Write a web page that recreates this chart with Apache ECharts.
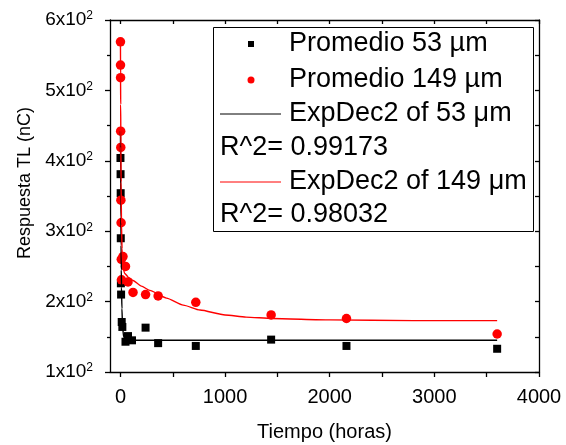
<!DOCTYPE html>
<html>
<head>
<meta charset="utf-8">
<script src="https://cdn.jsdelivr.net/npm/echarts@6/dist/echarts.min.js"></script>
<style>
html,body{margin:0;padding:0;background:#fff;}
#c{width:566px;height:445px;}
</style>
</head>
<body>
<div id="c"></div>
<script>
// ---- data ----
const tiempo53 = [0, 1, 2, 3, 4, 6, 12, 18, 48, 72, 110, 240, 360, 720, 1440, 2160, 3600];
const resp53   = [404, 381, 354, 290, 226, 210, 171, 164, 143, 151, 145, 163, 141, 137, 146, 137, 133];

const tiempo149 = [0, 0.5, 1, 2, 3, 4, 6, 8, 10, 24, 48, 72, 120, 240, 360, 720, 1440, 2160, 3600];
const resp149   = [569, 536, 518, 442, 419, 344, 312, 260, 231, 264, 250, 228, 213, 210, 208, 199, 181, 176, 154];

const fitX53 = [0, 2, 4, 6, 8, 10, 14, 20, 30, 50, 100, 500, 1000, 2000, 3000, 3600];
const fitY53 = [442, 380, 320, 280, 245, 220, 190, 165, 150, 145.5, 145, 145, 145, 145, 145, 145];

const fitX149 = [0, 1, 2, 4, 6, 10, 15, 22, 40, 80, 120, 200, 280, 440, 600, 760, 1000, 1200, 1450, 2000, 2800, 3600];
const fitY149 = [565, 520, 480, 420, 370, 310, 275, 250, 240, 234, 230, 222, 216, 205, 195, 188, 181, 178, 176, 174, 173, 173];

const xLabelValues = [0, 1000, 2000, 3000, 4000];
const xTickValues = [0, 500, 1000, 1500, 2000, 2500, 3000, 3500, 4000];

const seriesNames = ['Promedio 53 µm', 'Promedio 149 µm', 'ExpDec2 of 53 μm', 'ExpDec2 of 149 μm'];
const r2Texts = ['R^2= 0.99173', 'R^2= 0.98032'];
const xTitle = 'Tiempo (horas)';
const yTitle = 'Respuesta TL (nC)';

const FONT = '"Liberation Sans", Arial, sans-serif';
const zip = (xs, ys) => xs.map((x, i) => [x, ys[i]]);

const chart = echarts.init(document.getElementById('c'), null, {renderer: 'canvas'});

const legX = 213, legY = 27, legW = 320, legH = 204;
const rowY = [44, 80, 114, 148, 182, 215];
const txtX = 289;
const legFont = 27;

const graphics = [
  {type: 'rect', z: 100, shape: {x: legX + 0.5, y: legY + 0.5, width: legW, height: legH},
   style: {fill: '#fff', stroke: '#000', lineWidth: 1}},
  {type: 'rect', z: 101, shape: {x: 248, y: rowY[0] - 3, width: 6, height: 6}, style: {fill: '#000'}},
  {type: 'circle', z: 101, shape: {cx: 251, cy: rowY[1], r: 3.5}, style: {fill: '#ff0000'}},
  {type: 'line', z: 101, shape: {x1: 220, y1: rowY[2], x2: 281, y2: rowY[2]}, style: {stroke: '#000', lineWidth: 1}},
  {type: 'line', z: 101, shape: {x1: 220, y1: rowY[4], x2: 281, y2: rowY[4]}, style: {stroke: '#ff0000', lineWidth: 1}},
  {type: 'text', z: 101, x: txtX, y: rowY[0], style: {text: seriesNames[0], font: legFont + 'px ' + FONT, fill: '#000', verticalAlign: 'middle'}},
  {type: 'text', z: 101, x: txtX, y: rowY[1], style: {text: seriesNames[1], font: legFont + 'px ' + FONT, fill: '#000', verticalAlign: 'middle'}},
  {type: 'text', z: 101, x: txtX, y: rowY[2], style: {text: seriesNames[2], font: legFont + 'px ' + FONT, fill: '#000', verticalAlign: 'middle'}},
  {type: 'text', z: 101, x: 220, y: rowY[3], style: {text: r2Texts[0], font: legFont + 'px ' + FONT, fill: '#000', verticalAlign: 'middle'}},
  {type: 'text', z: 101, x: txtX, y: rowY[4], style: {text: seriesNames[3], font: legFont + 'px ' + FONT, fill: '#000', verticalAlign: 'middle'}},
  {type: 'text', z: 101, x: 220, y: rowY[5], style: {text: r2Texts[1], font: legFont + 'px ' + FONT, fill: '#000', verticalAlign: 'middle'}}
];

const axisLineStyle = {color: '#000', width: 1.3};

const option = {
  animation: false,
  backgroundColor: '#fff',
  textStyle: {fontFamily: FONT},
  grid: {left: 110, right: 27, top: 20, bottom: 73, containLabel: false, outerBoundsMode: 'none'},
  xAxis: [
    {
      type: 'value', position: 'bottom', min: -100, max: 4000,
      name: xTitle, nameLocation: 'middle', nameGap: 50,
      nameTextStyle: {fontSize: 20, color: '#000', fontFamily: FONT},
      axisLine: {show: true, onZero: false, lineStyle: axisLineStyle},
      axisTick: {show: true, inside: false, length: 5, customValues: xTickValues, lineStyle: {color: '#000', width: 1.3}},
      axisLabel: {show: true, customValues: xLabelValues, formatter: v => String(v), fontSize: 20, color: '#000', margin: 15, fontFamily: FONT},
      splitLine: {show: false}
    },
    {
      type: 'value', position: 'top', min: -100, max: 4000,
      axisLine: {show: true, onZero: false, lineStyle: axisLineStyle},
      axisTick: {show: true, inside: true, length: 4, customValues: xTickValues, lineStyle: {color: '#000', width: 1.3}},
      axisLabel: {show: false},
      splitLine: {show: false}
    }
  ],
  yAxis: [
    {
      type: 'value', position: 'left', min: 100, max: 600, interval: 100,
      name: yTitle, nameLocation: 'middle', nameGap: 76, nameRotate: 90,
      nameTextStyle: {fontSize: 18, color: '#000', fontFamily: FONT, padding: [0, 0, 0, 26]},
      axisLine: {show: true, onZero: false, lineStyle: axisLineStyle},
      axisTick: {show: true, inside: false, length: 5, lineStyle: {color: '#000', width: 1.3}},
      minorTick: {show: true, splitNumber: 2, length: 3, lineStyle: {color: '#000', width: 1.3}},
      axisLabel: {
        show: true, margin: 17, color: '#000',
        formatter: v => '{m|' + (v / 100) + 'x10}{s|2}',
        rich: {
          m: {fontSize: 19, fontFamily: FONT, color: '#000', lineHeight: 20},
          s: {fontSize: 12, fontFamily: FONT, color: '#000', verticalAlign: 'top', lineHeight: 20}
        }
      },
      splitLine: {show: false}
    },
    {
      type: 'value', position: 'right', min: 100, max: 600, interval: 50,
      axisLine: {show: true, onZero: false, lineStyle: axisLineStyle},
      axisTick: {show: true, inside: true, length: 4, lineStyle: {color: '#000', width: 1.3}},
      axisLabel: {show: false},
      splitLine: {show: false}
    }
  ],
  graphic: graphics,
  series: [
    {
      name: seriesNames[0], type: 'scatter', xAxisIndex: 0, yAxisIndex: 0,
      symbol: 'rect', symbolSize: 8, itemStyle: {color: '#000', opacity: 1},
      data: zip(tiempo53, resp53), z: 3
    },
    {
      name: seriesNames[1], type: 'scatter', xAxisIndex: 0, yAxisIndex: 0,
      symbol: 'circle', symbolSize: 9.5, itemStyle: {color: '#ff0000', opacity: 1},
      data: zip(tiempo149, resp149), z: 4
    },
    {
      name: seriesNames[2], type: 'line', xAxisIndex: 0, yAxisIndex: 0,
      showSymbol: false, smooth: 0.2, smoothMonotone: 'x',
      lineStyle: {color: '#000', width: 1.4}, itemStyle: {color: '#000'},
      data: zip(fitX53, fitY53), z: 5
    },
    {
      name: seriesNames[3], type: 'line', xAxisIndex: 0, yAxisIndex: 0,
      showSymbol: false, smooth: 0.2, smoothMonotone: 'x',
      lineStyle: {color: '#ff0000', width: 1.4}, itemStyle: {color: '#ff0000'},
      data: zip(fitX149, fitY149), z: 6
    }
  ]
};
chart.setOption(option);
</script>
</body>
</html>
